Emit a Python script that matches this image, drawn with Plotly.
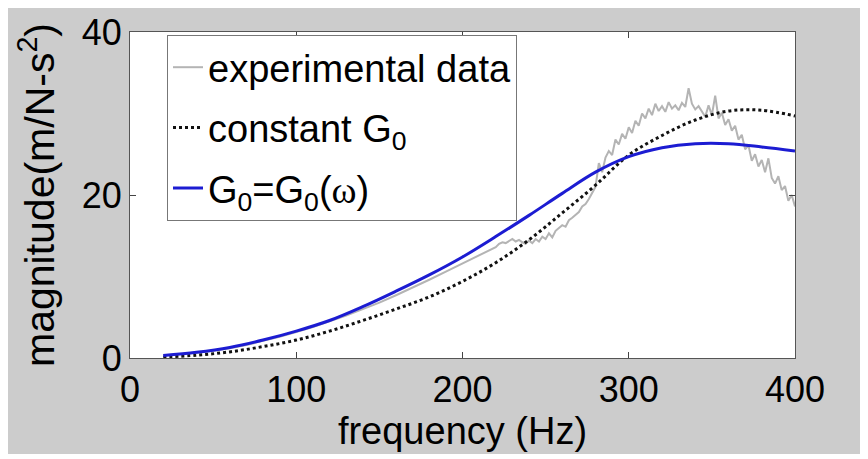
import plotly.graph_objects as go

# ---- data ----
model_freq = [20, 40, 60, 80, 100, 120, 140, 160, 180, 200,
              220, 240, 260, 280, 300, 320, 340, 360, 380, 400]
g0_omega_mag = [0.3, 0.7, 1.3, 2.2, 3.3, 4.6, 6.3, 8.2, 10.2, 12.4,
                14.9, 17.5, 20.2, 22.8, 24.7, 25.8, 26.3, 26.3, 25.9, 25.4]
const_g0_mag = [0.1, 0.35, 0.75, 1.4, 2.2, 3.3, 4.6, 6.0, 7.5, 9.4,
                11.7, 14.5, 17.8, 21.2, 24.9, 27.3, 29.2, 30.3, 30.4, 29.7]

exp_freq_low = [20, 30, 40, 50, 60, 70, 80, 90, 100, 110, 120, 130, 140, 150,
                160, 170, 180, 190, 200, 210, 220]
exp_mag_low = [0.3, 0.45, 0.65, 0.9, 1.2, 1.6, 2.1, 2.6, 3.2, 3.8, 4.5, 5.2,
               6.0, 6.8, 7.7, 8.6, 9.6, 10.6, 11.6, 12.6, 13.6]
exp_freq_high = [222, 224, 226, 228, 230, 232, 234, 236, 238, 240, 242, 244,
                 246, 248, 250, 252, 254, 256, 258, 260, 262, 264, 266, 268,
                 270, 272, 274, 276, 278, 280, 282, 284, 286, 288, 290, 292,
                 294, 296, 298, 300, 302, 304, 306, 308, 310, 312, 314, 316,
                 318, 320, 322, 324, 326, 328, 330, 332, 334, 336, 338, 340,
                 342, 344, 346, 348, 350, 352, 354, 356, 358, 360, 362, 364,
                 366, 368, 370, 372, 374, 376, 378, 380, 382, 384, 386, 388,
                 390, 392, 394, 396, 398, 400]
exp_mag_high = [14.0, 14.2, 14.1, 14.4, 14.6, 14.3, 14.5, 14.2, 14.0, 14.4,
                14.1, 14.6, 14.3, 14.9, 14.6, 15.3, 14.8, 15.6, 15.9, 16.3,
                16.1, 16.9, 17.2, 17.6, 17.9, 18.6, 18.9, 19.5, 20.3, 21.0,
                23.9, 22.8, 24.6, 25.4, 24.9, 26.8, 26.2, 27.5, 26.9, 28.3,
                27.6, 29.1, 28.5, 30.0, 29.4, 30.6, 29.8, 31.2, 30.3, 30.9,
                30.2, 31.4, 30.6, 31.0, 30.4, 31.3, 30.8, 33.1, 31.2, 30.5,
                30.9, 30.2, 29.6, 31.0, 29.8, 32.2, 29.4, 30.1, 28.6, 29.3,
                27.9, 28.5, 26.8, 27.4, 25.6, 26.1, 24.2, 25.0, 23.5, 24.3,
                22.8, 24.5, 22.1, 21.4, 22.3, 20.6, 21.1, 19.3, 20.0, 18.6]

exp_freq = exp_freq_low + exp_freq_high
exp_mag = exp_mag_low + exp_mag_high

x_ticks = [0, 100, 200, 300, 400]
y_ticks = [0, 20, 40]

FONT = "Liberation Sans, Arial, Helvetica, sans-serif"

fig = go.Figure()
fig.add_trace(go.Scatter(
    x=exp_freq, y=exp_mag, mode="lines", name="experimental data",
    line=dict(color="#b4b4b4", width=2), legendgroup="a"))
fig.add_trace(go.Scatter(
    x=model_freq, y=const_g0_mag, mode="lines", name="constant G<sub>0</sub>",
    line=dict(color="#111111", width=3, dash="3px,3px", shape="spline"),
    legendgroup="b"))
fig.add_trace(go.Scatter(
    x=model_freq, y=g0_omega_mag, mode="lines",
    name="G<sub>0</sub>=G<sub>0</sub>(<span style=\"font-family:'Liberation Serif'\">ω</span>)",
    line=dict(color="#1c1cd2", width=3, shape="spline"), legendgroup="c"))

# the page places the figure 8 px from the window's top-left corner
OFF = 8
W, H = 860, 446
L, R, T, B = 130 - OFF, 795 - OFF, 32 - OFF, 358 - OFF
pw, ph = R - L, B - T

def px_x(p):
    return (p - OFF - L) / pw

def px_y(p):
    return (B - (p - OFF)) / ph

fig.update_layout(
    width=W, height=H,
    margin=dict(l=L, r=W - R, t=T, b=H - B, pad=0, autoexpand=False),
    paper_bgcolor="#cccccc", plot_bgcolor="white",
    font=dict(family=FONT, size=36, color="black"),
    showlegend=True,
    legend=dict(x=px_x(167), y=px_y(35), xanchor="left", yanchor="top",
                bgcolor="white", bordercolor="#777777", borderwidth=1,
                font=dict(family=FONT, size=38, color="black"),
                tracegroupgap=8, itemwidth=30),
)
fig.update_xaxes(
    range=[0, 400], tickvals=x_ticks, ticktext=[str(v) for v in x_ticks],
    ticks="inside", ticklen=6, tickcolor="#444444", showgrid=False,
    zeroline=False, showline=True, linecolor="#555555", linewidth=1,
    mirror="ticks", tickfont=dict(size=36), automargin=False,
    title=dict(text="frequency (Hz)", font=dict(size=38), standoff=1))
fig.update_yaxes(
    range=[0, 40], tickvals=y_ticks, ticktext=[str(v) for v in y_ticks],
    ticks="inside", ticklen=6, tickcolor="#444444", showgrid=False,
    zeroline=False, showline=True, linecolor="#555555", linewidth=1,
    mirror="ticks", tickfont=dict(size=36), automargin=False,
    title=dict(text="magnitude(m/N-s<sup>2</sup>)", font=dict(size=41), standoff=14))

fig.write_html("out.html")
